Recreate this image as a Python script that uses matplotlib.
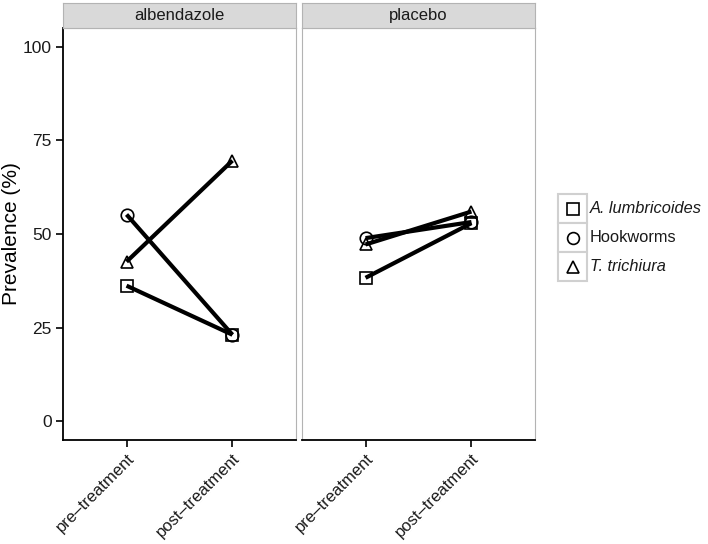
import matplotlib
matplotlib.use('Agg')
import matplotlib.pyplot as plt
from matplotlib.patches import Rectangle

plt.rcParams['font.family'] = ['Liberation Sans', 'DejaVu Sans']

# data
treatments = ['albendazole', 'placebo']
timepoints = ['pre\u2013treatment', 'post\u2013treatment']
species = ['A. lumbricoides', 'Hookworms', 'T. trichiura']
species_italic = [True, False, True]
markers = ['s', 'o', '^']

prev_albendazole = {
    'A. lumbricoides': [36.2, 23.1],
    'Hookworms': [55.2, 23.1],
    'T. trichiura': [42.6, 69.6],
}
prev_placebo = {
    'A. lumbricoides': [38.3, 52.9],
    'Hookworms': [48.9, 53.2],
    'T. trichiura': [47.2, 56.0],
}
panel_data = [prev_albendazole, prev_placebo]

yticks = [0, 25, 50, 75, 100]

W, H = 708, 544
fig = plt.figure(figsize=(W / 100, H / 100), dpi=100)

def fx(px):
    return px / W

def fy(py):
    return 1 - py / H

grey = '#b3b3b3'
txt = '#1a1a1a'
panels_px = [(63, 296), (302, 535)]
top_px, bot_px, strip_top = 28, 440, 3

for k, (x0, x1) in enumerate(panels_px):
    ax = fig.add_axes([fx(x0), fy(bot_px), fx(x1 - x0), (bot_px - top_px) / H])
    data = panel_data[k]
    xs = list(range(len(timepoints)))
    for s, m in zip(species, markers):
        ax.plot(xs, data[s], color='black', lw=3, solid_capstyle='butt', zorder=2)
        ax.plot(xs, data[s], ls='none', marker=m, ms=9, mfc='none', mec='black',
                mew=1.2, zorder=3)
    ax.set_xlim(-0.6, 1.6)
    ax.set_ylim(-5, 105)
    ax.set_xticks(xs)
    ax.set_xticklabels(timepoints, rotation=45, ha='right', va='top',
                       rotation_mode='anchor', fontsize=12, color=txt)
    ax.set_yticks(yticks)
    if k == 0:
        ax.set_yticklabels([str(v) for v in yticks], fontsize=12.5, color=txt)
        ax.spines['left'].set_color('black')
        ax.spines['left'].set_linewidth(1.3)
        ax.tick_params(axis='y', length=5, width=1.2, colors='black', labelcolor=txt, pad=3)
    else:
        ax.set_yticklabels([])
        ax.tick_params(axis='y', length=0)
        ax.spines['left'].set_color(grey)
    ax.spines['bottom'].set_color('black')
    ax.spines['bottom'].set_linewidth(1.3)
    ax.spines['top'].set_color(grey)
    ax.spines['right'].set_color(grey)
    ax.tick_params(axis='x', length=5, width=1.2, colors='black', labelcolor=txt, pad=3)

    # strip
    sax = fig.add_axes([fx(x0), fy(top_px), fx(x1 - x0), (top_px - strip_top) / H])
    sax.set_xticks([])
    sax.set_yticks([])
    sax.set_facecolor('#d9d9d9')
    for sp in sax.spines.values():
        sp.set_color(grey)
    sax.text(0.5, 0.5, treatments[k], ha='center', va='center', fontsize=12,
             color=txt, transform=sax.transAxes)

fig.text(fx(12), fy(234), 'Prevalence (%)', rotation=90, ha='center', va='center',
         fontsize=15, color='black')

# legend
lax = fig.add_axes([0, 0, 1, 1], facecolor='none')
lax.set_xlim(0, W)
lax.set_ylim(H, 0)
lax.axis('off')
row_h = 29
key_w = 29
lx, ly = 558, 194
for i, (s, m, it) in enumerate(zip(species, markers, species_italic)):
    y0 = ly + i * row_h
    lax.add_patch(Rectangle((lx, y0), key_w, row_h, fc='white', ec='#d0d0d0', lw=1.5))
    lax.plot(lx + key_w / 2, y0 + row_h / 2, marker=m, ms=8.5, mfc='none', mec='black', mew=1.2)
    lax.text(lx + key_w + 3, y0 + row_h / 2, s, va='center', ha='left', fontsize=11.8,
             style='italic' if it else 'normal', color=txt)

fig.savefig('out.png', dpi=100)
